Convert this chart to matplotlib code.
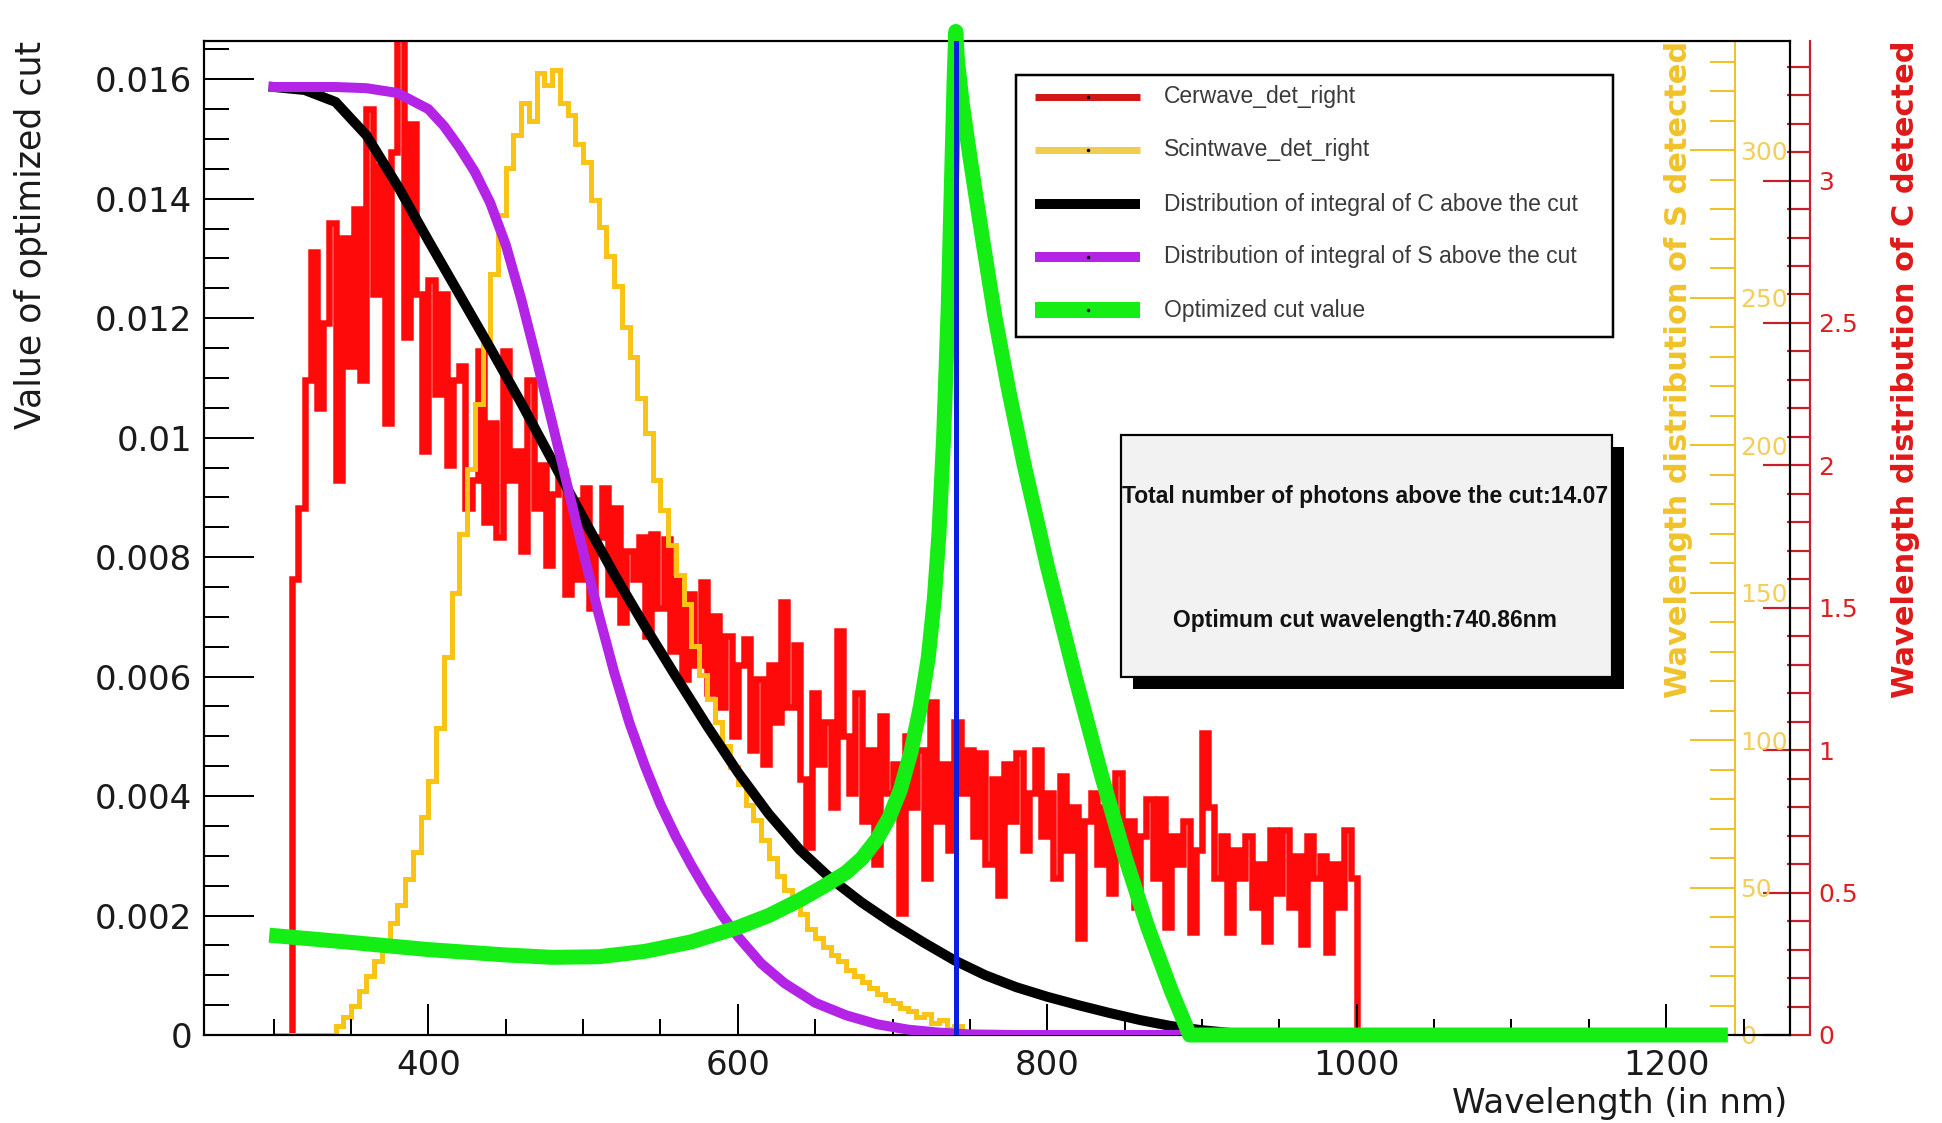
import numpy as np
import matplotlib
matplotlib.use("Agg")
import matplotlib.pyplot as plt
from matplotlib.patches import Rectangle
from matplotlib.lines import Line2D
from matplotlib.ticker import MultipleLocator, FuncFormatter

# ---------------- data ----------------
# Cherenkov wavelength histogram (right red axis), 4 nm bins starting at 312 nm
cer_start, cer_bin = 312, 4
cer_values = [
    1.60, 1.85, 2.30, 2.75, 2.20, 2.50, 2.85, 1.95, 2.80, 2.35,
    2.90, 2.30, 3.25, 2.60, 3.05, 2.15, 3.10, 3.90, 2.45, 3.20,
    2.60, 2.05, 2.65, 2.25, 2.60, 2.00, 2.30, 2.35, 1.85, 1.95,
    2.40, 1.80, 2.15, 1.75, 2.40, 1.95, 2.05, 1.70, 2.30, 1.85,
    2.00, 1.65, 1.90, 1.98, 1.55, 1.88, 1.60, 1.92, 1.50, 1.75,
    1.92, 1.55, 1.85, 1.45, 1.70, 1.60, 1.75, 1.40, 1.76, 1.50,
    1.74, 1.35, 1.60, 1.25, 1.55, 1.30, 1.59, 1.20, 1.47, 1.15,
    1.40, 1.05, 1.30, 1.39, 1.00, 1.25, 0.95, 1.30, 1.10, 1.52,
    1.15, 1.37, 0.90, 0.66, 1.20, 0.95, 1.10, 0.80, 1.42, 1.05,
    0.85, 1.20, 0.75, 1.00, 0.60, 1.12, 0.85, 0.95, 0.43, 1.05,
    0.80, 1.00, 0.55, 1.17, 0.75, 0.95, 0.65, 1.10, 0.85, 1.00,
    0.70, 0.99, 0.60, 0.90, 0.49, 0.95, 0.75, 0.99, 0.65, 0.85,
    1.00, 0.70, 0.85, 0.55, 0.91, 0.65, 0.80, 0.34, 0.75, 0.85,
    0.60, 0.80, 0.50, 0.92, 0.65, 0.75, 0.45, 0.70, 0.83, 0.55,
    0.83, 0.38, 0.70, 0.60, 0.75, 0.36, 0.65, 1.06, 0.80, 0.55,
    0.70, 0.36, 0.65, 0.55, 0.70, 0.45, 0.60, 0.33, 0.72, 0.50,
    0.72, 0.45, 0.63, 0.32, 0.70, 0.55, 0.63, 0.29, 0.60, 0.45,
    0.72, 0.55,
]

# Scintillation wavelength histogram (right yellow axis), 5 nm bins starting at 300 nm
scint_start, scint_bin = 300, 5
scint_values = [
    0, 0, 0, 0, 0, 0, 0, 0, 3, 6,
    10, 15, 20, 25, 31, 38, 44, 53, 62, 74,
    86, 104, 128, 150, 170, 192, 214, 236, 258, 278,
    294, 305, 316, 310, 326, 322, 327, 316, 312, 302,
    296, 283, 274, 264, 254, 240, 230, 216, 204, 188,
    178, 166, 156, 146, 132, 122, 114, 106, 98, 91,
    85, 78, 73, 66, 60, 54, 49, 45, 41, 36,
    33, 30, 27, 25, 22, 20, 18, 16, 14, 12,
    11, 9, 8, 6, 7, 4, 5, 2, 3, 0,
]

# Integral of C above the cut (left axis)
intC_wl = [300, 320, 340, 360, 380, 400, 420, 440, 460, 480, 500, 520, 540, 560,
           580, 600, 620, 640, 660, 680, 700, 720, 740, 760, 780, 800, 820, 840,
           860, 880, 900, 920, 940, 960, 1235]
intC_val = [0.01587, 0.01582, 0.01562, 0.01506, 0.01422, 0.01330, 0.01240, 0.01150,
            0.01058, 0.00962, 0.00866, 0.00772, 0.00684, 0.00600, 0.00518, 0.00440,
            0.00370, 0.00310, 0.00262, 0.00222, 0.00187, 0.00155, 0.00125, 0.00100,
            0.00080, 0.00064, 0.00050, 0.00037, 0.00025, 0.00015, 0.00008, 0.00003,
            0.00001, 0.0, 0.0]

# Integral of S above the cut (left axis)
intS_wl = [300, 340, 360, 380, 400, 410, 420, 430, 440, 450, 460, 470, 480, 490,
           500, 510, 520, 530, 540, 550, 560, 570, 580, 590, 600, 615, 630, 650,
           670, 690, 710, 730, 750, 780, 1235]
intS_val = [0.01587, 0.01587, 0.01585, 0.01577, 0.01550, 0.01522, 0.01486, 0.01445,
            0.01393, 0.01323, 0.01232, 0.01130, 0.01025, 0.00918, 0.00810, 0.00705,
            0.00608, 0.00522, 0.00450, 0.00386, 0.00332, 0.00284, 0.00240, 0.00200,
            0.00165, 0.00120, 0.00087, 0.00054, 0.00033, 0.00018, 0.00009, 0.00004,
            0.00001, 0.0, 0.0]

# Optimized cut value (left axis)
opt_wl = [302, 350, 400, 450, 480, 510, 540, 570, 600, 620, 640, 655, 670, 680, 690,
          698, 705, 712, 718, 723, 727, 730, 733, 736, 738, 739.8, 740.86, 742, 745,
          750, 758, 766, 775, 785, 800, 818, 835, 850, 865, 880, 892, 1235]
opt_val = [0.00166, 0.00155, 0.00143, 0.00134, 0.00130, 0.00131, 0.00140, 0.00156,
           0.00180, 0.00200, 0.00226, 0.00248, 0.00272, 0.00295, 0.00328, 0.00365,
           0.00410, 0.00475, 0.00550, 0.00630, 0.00730, 0.00840, 0.01000, 0.01220,
           0.01420, 0.01600, 0.01680, 0.01630, 0.01560, 0.01470, 0.01335, 0.01205,
           0.01080, 0.00955, 0.00785, 0.00600, 0.00435, 0.00300, 0.00180, 0.00075,
           0.0, 0.0]

cut_wavelength = 740.86
total_photons = 14.07

legend_labels = ["Cerwave_det_right", "Scintwave_det_right",
                 "Distribution of integral of C above the cut",
                 "Distribution of integral of S above the cut",
                 "Optimized cut value"]

x_lim = (255, 1280)
left_lim = (0, 0.01664)
scint_lim = (0, 337)
cer_lim = (0, 3.49)

# ---------------- style ----------------
W, H, DPI = 1942, 1123, 100
PX = 72.0 / DPI
RED = "#ff0a0a"
RED_AX = "#c8202a"
YEL = "#f9c416"
YEL_AX = "#f0c22a"
YEL_LBL = "#f2cf5a"
BLACK = "#000000"
PURPLE = "#b324e6"
GREEN = "#14ee14"
BLUE = "#0a1ee0"

plt.rcParams["font.family"] = ["DejaVu Sans"]

fig = plt.figure(figsize=(W / DPI, H / DPI), dpi=DPI, facecolor="white")
L, R, T, B = 204, 1790, 41, 1035
rect = [L / W, 1 - B / H, (R - L) / W, (B - T) / H]

ax_c = fig.add_axes(rect, zorder=1)
ax_s = fig.add_axes(rect, zorder=2)
ax = fig.add_axes(rect, zorder=3)
for a in (ax_s, ax):
    a.patch.set_visible(False)
ax_c.set_facecolor("white")

fmt = FuncFormatter(lambda v, p: "%g" % round(v, 6))

# ---- red (Cherenkov) axis ----
cer_edges = cer_start + cer_bin * np.arange(len(cer_values) + 1)
ax_c.stairs(cer_values, cer_edges, baseline=0, color=RED, lw=6.5 * PX)
ax_c.set_xlim(*x_lim)
ax_c.set_ylim(*cer_lim)
for s in ("left", "top", "bottom"):
    ax_c.spines[s].set_visible(False)
ax_c.spines["right"].set_position(("axes", (1810 - L) / (R - L)))
ax_c.spines["right"].set_color(RED_AX)
ax_c.spines["right"].set_linewidth(2.2 * PX)
ax_c.set_xticks([])
ax_c.yaxis.tick_right()
ax_c.yaxis.set_major_locator(MultipleLocator(0.5))
ax_c.yaxis.set_minor_locator(MultipleLocator(0.1))
ax_c.yaxis.set_major_formatter(fmt)
ax_c.tick_params(axis="y", which="major", direction="in", length=47 * PX,
                 width=2.2 * PX, color=RED_AX, labelcolor="#dc2020",
                 labelsize=18, pad=6)
ax_c.tick_params(axis="y", which="minor", direction="in", length=23 * PX,
                 width=2.2 * PX, color=RED_AX)

# ---- yellow (scintillation) axis ----
scint_edges = scint_start + scint_bin * np.arange(len(scint_values) + 1)
ax_s.stairs(scint_values, scint_edges, baseline=0, color=YEL, lw=5 * PX)
ax_s.set_xlim(*x_lim)
ax_s.set_ylim(*scint_lim)
for s in ("left", "top", "bottom"):
    ax_s.spines[s].set_visible(False)
ax_s.spines["right"].set_position(("axes", (1735 - L) / (R - L)))
ax_s.spines["right"].set_color(YEL_AX)
ax_s.spines["right"].set_linewidth(2 * PX)
ax_s.set_xticks([])
ax_s.yaxis.tick_right()
ax_s.yaxis.set_major_locator(MultipleLocator(50))
ax_s.yaxis.set_minor_locator(MultipleLocator(10))
ax_s.yaxis.set_major_formatter(fmt)
ax_s.tick_params(axis="y", which="major", direction="in", length=45 * PX,
                 width=2 * PX, color=YEL_AX, labelcolor=YEL_LBL,
                 labelsize=18, pad=4)
ax_s.tick_params(axis="y", which="minor", direction="in", length=25 * PX,
                 width=2 * PX, color=YEL_AX)

# ---- main (left) axis ----
ax.plot(intC_wl, intC_val, color=BLACK, lw=10 * PX, zorder=3)
ax.plot(intS_wl, intS_val, color=PURPLE, lw=10 * PX, zorder=4)
ax.plot(opt_wl, opt_val, color=GREEN, lw=15 * PX, zorder=5, clip_on=False)
ax.axvline(cut_wavelength, color=BLUE, lw=5 * PX, zorder=6)
ax.set_xlim(*x_lim)
ax.set_ylim(*left_lim)
for s in ax.spines.values():
    s.set_linewidth(2.2 * PX)
    s.set_color("black")
ax.xaxis.set_major_locator(MultipleLocator(200))
ax.xaxis.set_minor_locator(MultipleLocator(50))
ax.yaxis.set_major_locator(MultipleLocator(0.002))
ax.yaxis.set_minor_locator(MultipleLocator(0.0005))
ax.xaxis.set_major_formatter(fmt)
ax.yaxis.set_major_formatter(fmt)
ax.tick_params(axis="x", which="major", direction="in", length=31 * PX,
               width=2 * PX, pad=10, labelsize=24.5, labelcolor="#1a1a1a")
ax.tick_params(axis="x", which="minor", direction="in", length=16 * PX, width=2 * PX)
ax.tick_params(axis="y", which="major", direction="in", length=50 * PX,
               width=2 * PX, pad=8.5, labelsize=24.5, labelcolor="#1a1a1a")
ax.tick_params(axis="y", which="minor", direction="in", length=25 * PX, width=2 * PX)
ax.tick_params(top=False, right=False, which="both")

# ---- axis titles ----
fig.text(31 / W, 1 - 41 / H, "Value of optimized cut", rotation=90,
         ha="center", va="top", fontsize=25, color="#1a1a1a")
fig.text(1787 / W, 1 - 1103 / H, "Wavelength (in nm)", ha="right",
         va="center", fontsize=24.5, color="#1a1a1a")
fig.text(1678 / W, 1 - 41 / H, "Wavelength distribution of S detected",
         rotation=90, ha="center", va="top", fontsize=22, weight="bold",
         color=YEL_AX)
fig.text(1905 / W, 1 - 41 / H, "Wavelength distribution of C detected",
         rotation=90, ha="center", va="top", fontsize=22, weight="bold",
         color="#e01818")

# ---- legend ----
lx0, lx1, ly0, ly1 = 1016, 1613, 75, 337
fig.add_artist(Rectangle((lx0 / W, 1 - ly1 / H), (lx1 - lx0) / W, (ly1 - ly0) / H,
                         transform=fig.transFigure, facecolor="white",
                         edgecolor="black", lw=2.5 * PX, zorder=10))
leg_y = [97, 150, 204, 257, 310]
leg_colors = ["#d01818", "#f0cc50", BLACK, PURPLE, GREEN]
leg_lw = [7, 7, 10, 10, 16]
for yy, lab, col, lw in zip(leg_y, legend_labels, leg_colors, leg_lw):
    yf = 1 - yy / H
    fig.add_artist(Line2D([1035 / W, 1140 / W], [yf, yf], transform=fig.transFigure,
                          color=col, lw=lw * PX, solid_capstyle="butt", zorder=11))
    fig.add_artist(Line2D([1088 / W], [yf], transform=fig.transFigure, marker="o",
                          ms=1.5, color="black", zorder=12))
    fig.text(1164 / W, yf, lab, ha="left", va="center", fontsize=16.5,
             family=["Liberation Sans", "DejaVu Sans"], color="#3a3a3a", zorder=12)

# ---- info box with shadow ----
bx0, bx1, by0, by1, sh = 1121, 1612, 435, 677, 12
fig.add_artist(Rectangle(((bx0 + sh) / W, 1 - (by1 + sh) / H), (bx1 - bx0) / W,
                         (by1 - by0) / H, transform=fig.transFigure,
                         facecolor="black", edgecolor="black", lw=0, zorder=10))
fig.add_artist(Rectangle((bx0 / W, 1 - by1 / H), (bx1 - bx0) / W, (by1 - by0) / H,
                         transform=fig.transFigure, facecolor="#f2f2f2",
                         edgecolor="black", lw=2.2 * PX, zorder=11))
fig.text(1365 / W, 1 - 497 / H,
         "Total number of photons above the cut:%.2f" % total_photons,
         ha="center", va="center", fontsize=16.5, weight="bold",
         family=["Liberation Sans", "DejaVu Sans"], color="#111111", zorder=12)
fig.text(1365 / W, 1 - 620 / H,
         "Optimum cut wavelength:%.2fnm" % cut_wavelength,
         ha="center", va="center", fontsize=16.5, weight="bold",
         family=["Liberation Sans", "DejaVu Sans"], color="#111111", zorder=12)

fig.savefig("out.png", dpi=DPI, facecolor="white")
